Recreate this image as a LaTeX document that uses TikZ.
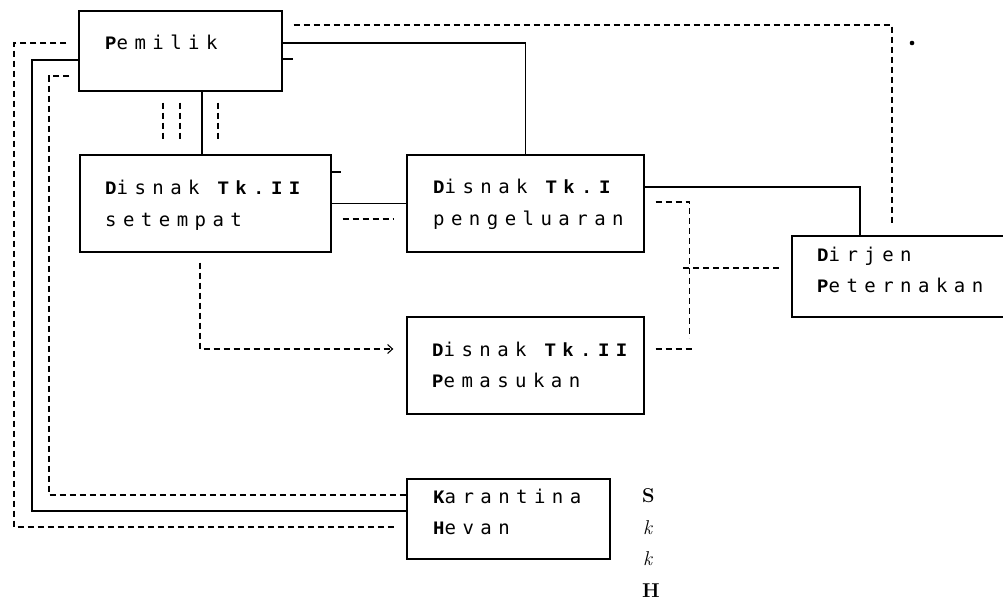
\documentclass[tikz,border=0pt]{standalone}
\usepackage{fontspec}
\usetikzlibrary{calc,arrows.meta}
\newfontfamily\rgfont[LetterSpace=34]{DejaVu Sans Mono}
\newfontfamily\bdfont[LetterSpace=34]{Liberation Mono}
\newcommand\B[1]{{\bdfont\bfseries #1}}
\tikzset{
  box/.style={draw, line width=1.3pt, inner sep=0pt},
  lbl/.style={inner sep=0pt, anchor=base west, font={\fontsize{19}{21}\selectfont\rgfont}},
  side/.style={inner sep=0pt, anchor=base west, font={\fontsize{20}{22}\selectfont}},
  conn/.style={line width=1.4pt},
  dsh/.style={line width=1.1pt, dash pattern=on 6pt off 4pt}
}
\begin{document}
\begin{tikzpicture}[x=1pt,y=-1pt]
\useasboundingbox (0,0) rectangle (1003,601);
% boxes
\node[box, minimum width=203pt, minimum height=80pt] (pem) at (180.5,51) {};
\node[box, minimum width=251pt, minimum height=97pt] (d2) at (205.5,203.5) {};
\node[box, minimum width=237pt, minimum height=97pt] (d1) at (525.5,203.5) {};
\node[box, minimum width=218pt, minimum height=81pt] (dj) at (901,276.5) {};
\node[box, minimum width=237pt, minimum height=97pt] (dm) at (525.5,365.5) {};
\node[box, minimum width=203pt, minimum height=80pt] (kh) at (508.5,519) {};
% texts
\node[lbl] (tpem) at (105,50) {\B{P}emilik};
\node[lbl] (td2a) at (105,195) {\B{D}isnak \B{Tk.II}};
\node[lbl] (td2b) at (105,227) {setempat};
\node[lbl] (td1a) at (433,194) {\B{D}isnak \B{Tk.I}};
\node[lbl] (td1b) at (433,226) {pengeluaran};
\node[lbl] (tdja) at (817,262) {\B{D}irjen};
\node[lbl] (tdjb) at (817,293) {\B{P}eternakan};
\node[lbl] (tdma) at (432,356) {\B{D}isnak \B{Tk.II}};
\node[lbl] (tdmb) at (432,387) {\B{P}emasukan};
\node[lbl] (tkha) at (433,503) {\B{K}arantina};
\node[lbl] (tkhb) at (433,534) {\B{H}evan};
\node[side] (s1) at (642,502) {\textbf{S}};
\node[side] (s2) at (643,534) {\textit{k}};
\node[side] (s3) at (643,565) {\textit{k}};
\node[side] (s4) at (642,597) {\textbf{H}};
% dot
\fill (912,43) circle (2.3pt);
% solid connectors
\draw[conn] ($(pem.east)+(0,-8)$) -| (d1.north);
\draw[conn] ($(pem.south)+(21.5,0)$) -- ($(pem.south |- d2.north)+(21.5,0)$);
\draw[conn] (d2.east) -- (d1.west);
\draw[conn] ($(d1.east)+(0,-16.5)$) -| ($(dj.north)+(-41,0)$);
\coordinate (sL) at (32,511);
\draw[conn] ($(pem.west)+(0,9)$) -| (sL) -- ($(kh.west)+(0,-8)$);
\draw[conn] ($(pem.east)+(0,8)$) -- ++(10,0);
\draw[conn] ($(d2.east)+(0,-31.5)$) -- ++(9,0);
% dashed connectors
\draw[dsh] ($(pem.east)+(11,-26)$) -| ($(dj.north)+(-9,-11)$);
\draw[dsh] ($(pem.west)+(-12,-8)$) -| (14,527) -- ($(kh.west)+(-10,8)$);
\draw[dsh] ($(pem.west)+(-9,25)$) -| (49,495) -- ($(kh.west)+(0,-24)$);
\draw[dsh] ($(pem.south)+(-17.5,11)$) -- ($(pem.south |- d2.north)+(-17.5,-12)$);
\draw[dsh] ($(pem.south)+(-0.5,11)$) -- ($(pem.south |- d2.north)+(-0.5,-12)$);
\draw[dsh] ($(pem.south)+(37.5,11)$) -- ($(pem.south |- d2.north)+(37.5,-12)$);
\draw[dsh] ($(d2.east)+(11,15.5)$) -- ($(d1.west)+(-12,15.5)$);
\draw[dsh, -{Straight Barb[length=5pt,width=9pt]}] ($(d2.south)+(-5.5,10)$) |- ($(dm.west)+(-13,-16.5)$);
\draw[dsh] ($(d1.east)+(11,-1.5)$) -| ($(dm.east)+(45,-27.5)$);
\draw[dsh] ($(dm.east)+(11,-16.5)$) -- ++(39,0);
\draw[dsh] ($(dj.west)+(-108,-8.5)$) -- ($(dj.west)+(-10,-8.5)$);
\end{tikzpicture}
\end{document}
